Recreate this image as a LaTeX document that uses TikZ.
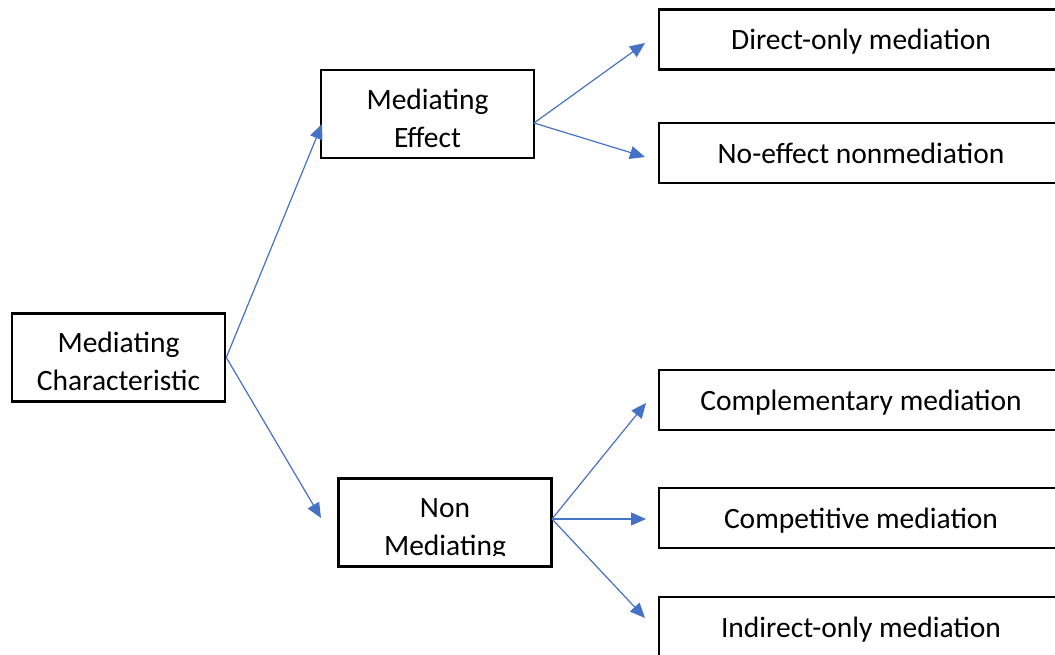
\documentclass[tikz,border=0pt]{standalone}
\usepackage{fontspec}
\setmainfont{Carlito}
\usetikzlibrary{arrows.meta}
\definecolor{linkblue}{HTML}{4472C4}
\begin{document}
\begin{tikzpicture}[x=0.5pt,y=-0.5pt]

  \tikzstyle{box}=[draw,line width=1.3pt,inner sep=0pt,font=\fontsize{14.75pt}{19pt}\selectfont]
  \tikzstyle{mid}=[box,minimum width=106.5pt,minimum height=44pt]
  \tikzstyle{leaf}=[box,minimum width=202pt,minimum height=30pt,text height=10pt,text depth=0pt]
  \tikzstyle{words}=[align=center,inner sep=0pt,font=\fontsize{14.75pt}{19pt}\selectfont]
  \tikzstyle{link}=[draw=linkblue,line width=0.6pt,-{Triangle[length=7.5pt,width=6.5pt]}]

  \clip (0,0) rectangle (1055,654);

  % middle column
  \node[mid] (char) at (118.5,357.5) {};
  \node[words] (chartext) at (118.5,361) {Mediating\\Characteristic};

  \node[mid] (eff) at (427.5,114) {};
  \node[words] (efftext) at (427.5,118) {Mediating\\Effect};

  \node[mid] (non) at (445,522.5) {};
  \begin{scope}
    \clip (339,479) rectangle (551,555);
    \node[words] (nontext) at (445,529.5) {Non\\Mediating};
  \end{scope}

  % outcomes
  \node[leaf] (dir) at (861,39.5) {Direct-only mediation};
  \node[leaf] (noe) at (861,153) {No-effect nonmediation};
  \node[leaf] (com) at (861,400) {Complementary mediation};
  \node[leaf] (cmp) at (861,518) {Competitive mediation};
  \node[leaf] (ind) at (861,627) {Indirect-only mediation};

  \coordinate (efffrom) at (534,123);
  \coordinate (nonfrom) at (552,519);
  \coordinate (toeff) at (322,124);
  \coordinate (tonon) at (321,518);
  \coordinate (todir) at (645,43);
  \coordinate (tonoe) at (645,157);
  \coordinate (tocom) at (646,403);
  \coordinate (tocmp) at (646,519);
  \coordinate (toind) at (645,618);

  \draw[link] (char.east) -- (toeff);
  \draw[link] (char.east) -- (tonon);

  \draw[link] (efffrom) -- (todir);
  \draw[link] (efffrom) -- (tonoe);

  \draw[link] (nonfrom) -- (tocom);
  \draw[link] (nonfrom) -- (tocmp);
  \draw[link] (nonfrom) -- (toind);

\end{tikzpicture}
\end{document}
